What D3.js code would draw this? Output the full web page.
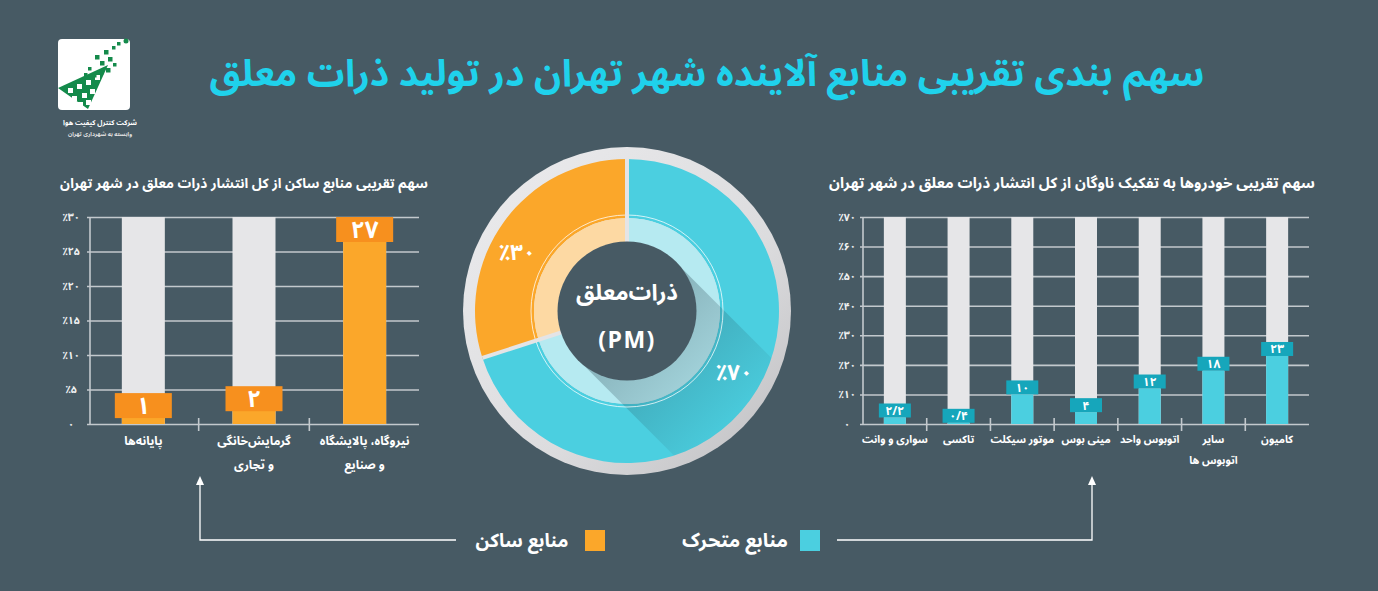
<!DOCTYPE html>
<html><head><meta charset="utf-8">
<script src="https://cdn.jsdelivr.net/npm/d3@7"></script>
<style>
html,body{margin:0;padding:0;background:#475a64;}
svg{display:block;}
text{font-family:"Noto Sans Arabic","Vazirmatn","DejaVu Sans",sans-serif;font-weight:bold;}
</style></head>
<body>
<svg id="c" width="1378" height="591"></svg>
<script>
// ---------- DATA ----------
const titleText = "سهم بندی تقریبی منابع آلاینده شهر تهران در تولید ذرات معلق";
const staticTitle = "سهم تقریبی منابع ساکن از کل انتشار ذرات معلق در شهر تهران";
const mobileTitle = "سهم تقریبی خودروها به تفکیک ناوگان از کل انتشار ذرات معلق در شهر تهران";
const staticCategories = ["پایانه‌ها", "گرمایش‌خانگی|و تجاری", "نیروگاه، پالایشگاه|و صنایع"];
const staticValues = [1, 2, 27];
const staticTicks = [0, 5, 10, 15, 20, 25, 30];
const mobileCategories = ["سواری و وانت", "تاکسی", "موتور سیکلت", "مینی بوس", "اتوبوس واحد", "سایر|اتوبوس ها", "کامیون"];
const mobileValues = [2.2, 0.4, 10, 4, 12, 18, 23];
const mobileTicks = [0, 10, 20, 30, 40, 50, 60, 70];
const shareLabels = ["منابع متحرک", "منابع ساکن"];
const shareValues = [70, 30];
const centerLabel = ["ذرات‌معلق", "(PM)"];
const logoLines = ["شرکت کنترل کیفیت هوا", "وابسته به شهرداری تهران"];

// ---------- HELPERS ----------
const fa = s => String(s).replace(/\./g, "/").replace(/[0-9]/g, d => "۰۱۲۳۴۵۶۷۸۹"[d]);
const tickFmt = v => v === 0 ? fa(0) : "٪" + fa(v);

const BG = "#475a64";
const ORANGE = "#fba72a", ORANGE_D = "#f7901e";
const CYAN = "#4bcfe0", CYAN_D = "#16a6bb";
const GREY_BAR = "#e6e6e8";
const GRID = "#c3c9cd";

const svg = d3.select("#c");
svg.append("rect").attr("width", 1378).attr("height", 591).attr("fill", BG);
const defs = svg.append("defs");

function fitText(sel, w) {
  const n = sel.node();
  const cur = n.getComputedTextLength();
  const fs = parseFloat(sel.attr("font-size"));
  if (cur > 0) sel.attr("font-size", (fs * w / cur).toFixed(2));
}

// ---------- TITLE ----------
const t = svg.append("text").attr("x", 707).attr("y", 86).attr("text-anchor", "middle")
  .attr("font-size", 30).attr("fill", "#1fd2ec").text(titleText);
fitText(t, 995);

// ---------- LOGO ----------
const logo = svg.append("g");
logo.append("rect").attr("x", 58).attr("y", 39).attr("width", 72).attr("height", 71).attr("rx", 4).attr("fill", "#ffffff");
logo.append("path").attr("d", "M58,88 L108,65 L88,109 Z").attr("fill", "#148a4b");
[[68,88],[77,84],[86,80],[95,75],[72,96],[82,93],[90,89],[78,102],[86,100]].forEach(p=>{
  logo.append("rect").attr("x",p[0]).attr("y",p[1]).attr("width",5).attr("height",5).attr("fill","#fff");
});
[[99,70],[106,68],[92,73],[100,61],[108,57],[95,55],[104,50],[112,46],[117,42],[88,67],[84,73],[113,63]].forEach((p,i)=>{
  logo.append("rect").attr("x",p[0]).attr("y",p[1]).attr("width",i>6?3.5:4.5).attr("height",i>6?3.5:4.5).attr("fill","#148a4b");
});
logo.append("circle").attr("cx",126).attr("cy",41).attr("r",2.5).attr("fill","#148a4b");
logo.append("text").attr("x",100).attr("y",125).attr("text-anchor","middle").attr("font-size",7).attr("fill","#fff").text(logoLines[0]);
logo.append("text").attr("x",100).attr("y",136).attr("text-anchor","middle").attr("font-size",5.8).attr("font-weight","normal").attr("fill","#e0e0e0").text(logoLines[1]);

// ---------- BAR CHART FUNCTION ----------
function barChart(o) {
  const g = svg.append("g");
  const x = d3.scaleBand().domain(o.cats.map((d, i) => i)).range([o.x0, o.x1]).padding(0);
  const y = d3.scaleLinear().domain([0, d3.max(o.ticks)]).range([o.yb, o.yt]);
  const st = g.append("text").attr("x", o.titleX).attr("y", 188).attr("text-anchor", "middle")
    .attr("font-size", 13).attr("fill", "#ffffff").text(o.title);
  fitText(st, o.titleW);
  const ax = d3.axisLeft(y).tickValues(o.ticks).tickSize(-(o.gridEnd - o.axisX)).tickPadding(0).tickFormat(tickFmt);
  const axg = g.append("g").attr("transform", `translate(${o.axisX},0)`).call(ax);
  axg.select(".domain").remove();
  axg.selectAll(".tick line").attr("stroke", GRID).attr("stroke-width", 1.6).attr("x1", -3);
  axg.selectAll(".tick text").attr("x", o.labelX - o.axisX).attr("text-anchor", "middle")
    .attr("fill", "#eef0f1").attr("font-size", 10.5).attr("font-family", '"DejaVu Sans",sans-serif');
  g.append("line").attr("x1", o.axisX).attr("x2", o.axisX).attr("y1", o.yt).attr("y2", o.yb)
    .attr("stroke", GRID).attr("stroke-width", 1.6);
  o.cats.slice(1).forEach((d, i) => {
    const sx = x(i + 1);
    g.append("line").attr("x1", sx).attr("x2", sx).attr("y1", o.yb - 6).attr("y2", o.yb + 7)
      .attr("stroke", GRID).attr("stroke-width", 1.6);
  });
  g.selectAll(".bg").data(o.vals).join("rect")
    .attr("x", (d, i) => x(i) + x.bandwidth() / 2 - o.barW / 2).attr("width", o.barW)
    .attr("y", y(d3.max(o.ticks))).attr("height", y(0) - y(d3.max(o.ticks)))
    .attr("fill", GREY_BAR);
  g.selectAll(".val").data(o.vals).join("rect")
    .attr("x", (d, i) => x(i) + x.bandwidth() / 2 - o.barW / 2).attr("width", o.barW)
    .attr("y", d => y(d)).attr("height", d => y(0) - y(d)).attr("fill", o.color);
  const boxTop = d => Math.max(y(d) + o.boxOff - o.boxH, y(d3.max(o.ticks)));
  g.selectAll(".box").data(o.vals).join("rect")
    .attr("x", (d, i) => x(i) + x.bandwidth() / 2 - o.boxW / 2).attr("width", o.boxW)
    .attr("y", boxTop).attr("height", o.boxH).attr("fill", o.boxColor);
  g.selectAll(".vt").data(o.vals).join("text")
    .attr("x", (d, i) => x(i) + x.bandwidth() / 2).attr("y", d => boxTop(d) + o.boxH / 2 + o.valDy)
    .attr("text-anchor", "middle").attr("font-size", o.valFs).attr("fill", "#fff")
    .text(d => fa(d));
  o.cats.forEach((c, i) => {
    const cxp = x(i) + x.bandwidth() / 2;
    c.split("|").forEach((line, j) => {
      g.append("text").attr("x", cxp).attr("y", o.catY + j * o.catLh)
        .attr("text-anchor", "middle").attr("font-size", o.catFs).attr("fill", "#fff").text(line);
    });
  });
}

barChart({cats: staticCategories, vals: staticValues, ticks: staticTicks,
  x0: 88, x1: 420, axisX: 90, gridEnd: 419, labelX: 71, yt: 217, yb: 424,
  barW: 43, boxW: 57, boxH: 25, boxOff: 1, color: ORANGE, boxColor: ORANGE_D,
  valFs: 24, valDy: 8.5, catY: 445, catLh: 23.5, catFs: 12,
  title: staticTitle, titleX: 244, titleW: 368});

barChart({cats: mobileCategories, vals: mobileValues, ticks: mobileTicks,
  x0: 863, x1: 1309, axisX: 863, gridEnd: 1309, labelX: 847, yt: 217, yb: 424,
  barW: 22, boxW: 32, boxH: 14, boxOff: 0, color: CYAN, boxColor: CYAN_D,
  valFs: 12, valDy: 4.5, catY: 443, catLh: 20.5, catFs: 10.6,
  title: mobileTitle, titleX: 1072, titleW: 486});

// ---------- DONUT ----------
const cx = 627, cy = 311;
const dg = svg.append("g").attr("transform", `translate(${cx},${cy})`);
const gg = defs.append("linearGradient").attr("id", "ring").attr("x1", "0").attr("y1", "0").attr("x2", "1").attr("y2", "1");
gg.append("stop").attr("offset", "0").attr("stop-color", "#ececee");
gg.append("stop").attr("offset", "0.6").attr("stop-color", "#dcdcde");
gg.append("stop").attr("offset", "1").attr("stop-color", "#bdbdc0");
dg.append("circle").attr("r", 164).attr("fill", "url(#ring)");

const pie = d3.pie().sort(null).value(d => d)(shareValues);
const mainArc = d3.arc().innerRadius(93).outerRadius(152);
const lightArc = d3.arc().innerRadius(69).outerRadius(93);
const mainCols = [CYAN, ORANGE], lightCols = ["#b6eaf1", "#fdd9a3"];
dg.selectAll(".m").data(pie).join("path").attr("d", mainArc).attr("fill", (d, i) => mainCols[i]);
dg.selectAll(".l").data(pie).join("path").attr("d", lightArc).attr("fill", (d, i) => lightCols[i]);

const clip = defs.append("clipPath").attr("id", "ringclip");
clip.append("path").attr("d", d3.arc().innerRadius(69).outerRadius(152).startAngle(0).endAngle(2 * Math.PI)());
const sg = defs.append("linearGradient").attr("id", "shadow").attr("gradientUnits", "userSpaceOnUse")
  .attr("x1", 0).attr("y1", 0).attr("x2", 120).attr("y2", 120);
sg.append("stop").attr("offset", "0").attr("stop-color", "#1d3440").attr("stop-opacity", 0.32);
sg.append("stop").attr("offset", "1").attr("stop-color", "#1d3440").attr("stop-opacity", 0);
const r0 = 69 / Math.SQRT2;
dg.append("path").attr("clip-path", "url(#ringclip)")
  .attr("d", `M${-r0},${r0} L${-r0 + 200},${r0 + 200} L${r0 + 200},${-r0 + 200} L${r0},${-r0} Z`)
  .attr("fill", "url(#shadow)");

dg.append("circle").attr("r", 96).attr("fill", "none").attr("stroke", "#ffffff").attr("stroke-opacity", 0.75).attr("stroke-width", 1);
pie.forEach(d => {
  const a = d.startAngle;
  dg.append("line").attr("x1", 69 * Math.sin(a)).attr("y1", -69 * Math.cos(a))
    .attr("x2", 152 * Math.sin(a)).attr("y2", -152 * Math.cos(a))
    .attr("stroke", "#e4e4e6").attr("stroke-width", 4);
});
dg.append("circle").attr("r", 69.5).attr("fill", BG);
dg.append("text").attr("y", -11).attr("text-anchor", "middle").attr("font-size", 22.5).attr("fill", "#fff").text(centerLabel[0]);
dg.append("text").attr("y", 37).attr("text-anchor", "middle").attr("font-size", 23).attr("letter-spacing", 1.5)
  .attr("font-family", '"DejaVu Sans",sans-serif').attr("fill", "#fff").text(centerLabel[1]);
const labPos = [[107, 69], [-110, -51]];
pie.forEach((d, i) => {
  dg.append("text").attr("x", labPos[i][0]).attr("y", labPos[i][1]).attr("text-anchor", "middle")
    .attr("font-size", 22).attr("fill", "#fff").attr("font-family", '"DejaVu Sans",sans-serif')
    .text("٪" + fa(d.data));
});

// ---------- LEGEND / ARROWS ----------
const lg = svg.append("g").attr("stroke", "#ffffff").attr("stroke-width", 1.3).attr("fill", "none");
lg.append("path").attr("d", "M456,540 H200 V483");
lg.append("path").attr("d", "M837,540 H1092 V483");
svg.append("path").attr("d", "M196,485 L200,476 L204,485 Z").attr("fill", "#fff");
svg.append("path").attr("d", "M1088,485 L1092,476 L1096,485 Z").attr("fill", "#fff");
svg.append("rect").attr("x", 585).attr("y", 530).attr("width", 20).attr("height", 21).attr("fill", ORANGE);
svg.append("rect").attr("x", 800).attr("y", 530).attr("width", 20).attr("height", 21).attr("fill", CYAN);
const l1 = svg.append("text").attr("x", 522).attr("y", 547).attr("text-anchor", "middle").attr("font-size", 18).attr("fill", "#fff").text(shareLabels[1]);
fitText(l1, 93);
const l2 = svg.append("text").attr("x", 735).attr("y", 547).attr("text-anchor", "middle").attr("font-size", 18).attr("fill", "#fff").text(shareLabels[0]);
fitText(l2, 106);
</script>
</body></html>
